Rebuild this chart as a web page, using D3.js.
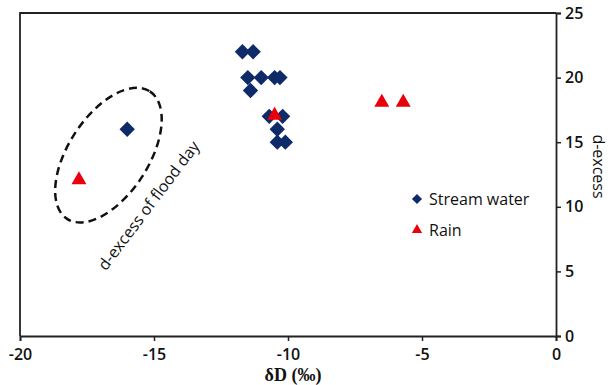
<!DOCTYPE html>
<html>
<head>
<meta charset="utf-8">
<script src="https://cdn.jsdelivr.net/npm/d3@7"></script>
<style>
  body { margin: 0; background: #fff; }
  text { font-family: "Open Sans", "Noto Sans", sans-serif; }
</style>
</head>
<body>
<script>
// DATA

var streamX = [-16, -11.7, -11.3, -11.5, -11, -10.5, -10.3, -11.4, -10.7, -10.2, -10.4, -10.4, -10.1];
var streamY = [16, 22, 22, 20, 20, 20, 20, 19, 17, 17, 16, 15, 15];

var rainX = [-17.8, -10.5, -6.5, -5.7];
var rainY = [12, 17, 18, 18];

var xTicks = [-20, -15, -10, -5, 0];
var yTicks = [0, 5, 10, 15, 20, 25];

var legendNames = ["Stream water", "Rain"];

// CHART STRUCTURE

var svgWidth = 610;
var svgHeight = 385;
var margin = {top: 13, right: 54, bottom: 49, left: 20};
var chartWidth = svgWidth - margin.left - margin.right;
var chartHeight = svgHeight - margin.top - margin.bottom;

var navy = "#0f2a68";
var red = "#e8000b";

var svg = d3.select("body")
  .append("svg")
  .attr("width", svgWidth)
  .attr("height", svgHeight);

var chartGroup = svg.append("g")
  .attr("transform", `translate(${margin.left}, ${margin.top})`);

// SCALES

var xScale = d3.scaleLinear().domain([-20, 0]).range([0, chartWidth]);
var yScale = d3.scaleLinear().domain([0, 25]).range([chartHeight, 0]);

// FRAME (top + left)

chartGroup.append("path")
  .attr("d", `M0,${chartHeight}V0H${chartWidth}`)
  .attr("fill", "none")
  .attr("stroke", "#222")
  .attr("stroke-width", 1.8);

// AXES

var xAxis = d3.axisBottom(xScale).tickValues(xTicks).tickSize(5).tickFormat(d3.format("d"));
var yAxis = d3.axisRight(yScale).tickValues(yTicks).tickSize(5).tickFormat(d3.format("d"));

var gx = chartGroup.append("g")
  .attr("transform", `translate(0, ${chartHeight})`)
  .call(xAxis);

var gy = chartGroup.append("g")
  .attr("transform", `translate(${chartWidth}, 0)`)
  .call(yAxis);

[gx, gy].forEach(function(g) {
  g.select(".domain").attr("stroke", "#222").attr("stroke-width", 1.8);
  g.selectAll(".tick line").attr("stroke", "#222").attr("stroke-width", 1.5);
  g.selectAll(".tick text")
    .attr("fill", "#111")
    .style("font-size", "16px")
    .style("font-weight", 600);
});
gx.selectAll(".tick text").text(function(d) { return d < 0 ? "-" + Math.abs(d) : d; });
gx.selectAll(".tick text").attr("y", 10).attr("dy", "0.85em");
gy.selectAll(".tick text").attr("x", 9);

// AXIS LABELS

svg.append("text")
  .attr("x", 293)
  .attr("y", 381)
  .attr("text-anchor", "middle")
  .style("font-family", "'Liberation Serif', serif")
  .style("font-size", "18px")
  .style("font-weight", "bold")
  .attr("fill", "#111")
  .text("δD (‰)");

svg.append("text")
  .attr("transform", `translate(593, ${margin.top + yScale(12.5) - 8}) rotate(90)`)
  .attr("text-anchor", "middle")
  .style("font-size", "16px")
  .style("font-weight", 500)
  .attr("fill", "#111")
  .text("d-excess");

// FLOOD DAY ELLIPSE

var ellipse = {x: -16.7, y: 14, rx: 76, ry: 40, angle: -57};
chartGroup.append("ellipse")
  .attr("transform", `translate(${xScale(ellipse.x)}, ${yScale(ellipse.y)}) rotate(${ellipse.angle})`)
  .attr("rx", ellipse.rx)
  .attr("ry", ellipse.ry)
  .attr("fill", "none")
  .attr("stroke", "#111")
  .attr("stroke-width", 2.5)
  .attr("stroke-dasharray", "8,5");

chartGroup.append("text")
  .attr("transform", `translate(${xScale(-15.2)}, ${yScale(10.1)}) rotate(-53)`)
  .attr("text-anchor", "middle")
  .attr("dy", "0.35em")
  .style("font-size", "16px")
  .style("font-weight", 500)
  .attr("fill", "#111")
  .text("d-excess of flood day");

// POINTS

var diamond = d3.symbol().type(d3.symbolDiamond2).size(150);
var triangle = d3.symbol().type(d3.symbolTriangle2).size(160);

chartGroup.selectAll(".stream")
  .data(streamX.map(function(x, i) { return [x, streamY[i]]; }))
  .enter()
  .append("path")
  .attr("class", "stream")
  .attr("d", diamond)
  .attr("transform", d => `translate(${xScale(d[0])}, ${yScale(d[1])})`)
  .attr("fill", navy);

chartGroup.selectAll(".rain")
  .data(rainX.map(function(x, i) { return [x, rainY[i]]; }))
  .enter()
  .append("path")
  .attr("class", "rain")
  .attr("d", triangle)
  .attr("transform", d => `translate(${xScale(d[0])}, ${yScale(d[1]) - 1})`)
  .attr("fill", red);

// LEGEND

var legend = svg.append("g").attr("transform", "translate(417, 199)");
var legendSymbols = [d3.symbol().type(d3.symbolDiamond2).size(65), d3.symbol().type(d3.symbolTriangle2).size(75)];
var legendColors = [navy, red];

legendNames.forEach(function(name, i) {
  var row = legend.append("g").attr("transform", `translate(0, ${i * 31})`);
  row.append("path")
    .attr("d", legendSymbols[i])
    .attr("fill", legendColors[i]);
  row.append("text")
    .attr("x", 12)
    .attr("dy", "0.35em")
    .style("font-size", "16px")
    .style("font-weight", 500)
    .attr("fill", "#111")
    .text(name);
});
</script>
</body>
</html>
